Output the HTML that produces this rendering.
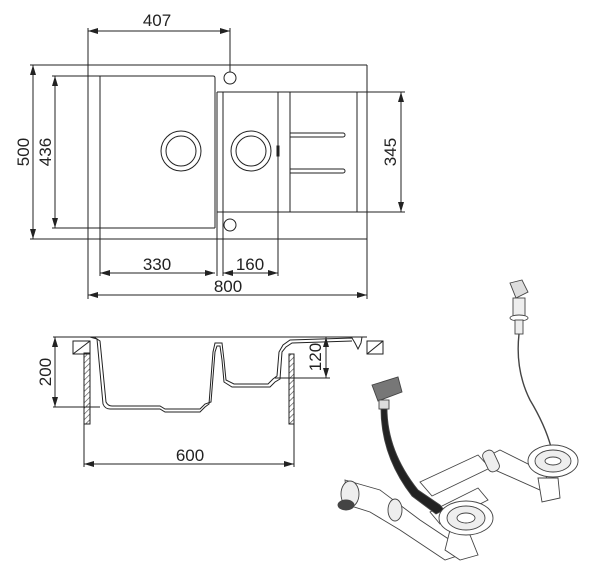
<!DOCTYPE html>
<html><head><meta charset="utf-8"><style>
html,body{margin:0;padding:0;background:#fff;width:600px;height:574px;overflow:hidden}
svg text{font-family:"Liberation Sans",sans-serif;font-size:17px;fill:#222}
</style></head><body>
<svg width="600" height="574" viewBox="0 0 600 574" xmlns="http://www.w3.org/2000/svg">
<defs>
<marker id="a" viewBox="0 0 10 6" refX="10" refY="3" markerWidth="10" markerHeight="6" orient="auto-start-reverse" markerUnits="userSpaceOnUse"><path d="M0,0L10,3L0,6z" fill="#222"/></marker>
<pattern id="h" width="4" height="4" patternUnits="userSpaceOnUse" patternTransform="rotate(45)"><line x1="0" y1="0" x2="0" y2="4" stroke="#444" stroke-width="1.2"/></pattern>
</defs>
<g stroke="#222" stroke-width="1" fill="none">
<line x1="88" y1="28" x2="88" y2="299"/>
<line x1="230" y1="28" x2="230" y2="72"/>
<line x1="88" y1="31" x2="230" y2="31" marker-start="url(#a)" marker-end="url(#a)"/>
<line x1="30" y1="65" x2="367" y2="65"/>
<line x1="367" y1="65" x2="367" y2="299"/>
<line x1="30" y1="239" x2="367" y2="239"/>
<line x1="33" y1="65" x2="33" y2="239" marker-start="url(#a)" marker-end="url(#a)"/>
<line x1="52" y1="76" x2="213" y2="76"/>
<path d="M213,76 Q215,76 215,78 L215,228"/>
<line x1="52" y1="228" x2="215" y2="228"/>
<line x1="100" y1="76" x2="100" y2="276"/>
<line x1="55" y1="76" x2="55" y2="228" marker-start="url(#a)" marker-end="url(#a)"/>
<line x1="217" y1="92" x2="405" y2="92"/>
<line x1="217" y1="212" x2="405" y2="212"/>
<line x1="217" y1="92" x2="217" y2="276"/>
<line x1="223" y1="92" x2="223" y2="276"/>
<line x1="278" y1="92" x2="278" y2="276"/>
<line x1="290" y1="92" x2="290" y2="212"/>
<line x1="357" y1="92" x2="357" y2="212"/>
<path d="M290,133 L343,133 A2,2 0 0 1 343,137 L290,137"/>
<path d="M290,169 L343,169 A2,2 0 0 1 343,173 L290,173"/>
<line x1="401" y1="92" x2="401" y2="212" marker-start="url(#a)" marker-end="url(#a)"/>
<circle cx="230" cy="78" r="6"/>
<circle cx="230" cy="225" r="6"/>
<circle cx="181" cy="151" r="20"/><circle cx="181" cy="151" r="15"/>
<circle cx="251" cy="151" r="20"/><circle cx="251" cy="151" r="15"/>
<rect x="277" y="146" width="2" height="10" fill="#222"/>
<line x1="100" y1="273" x2="215" y2="273" marker-start="url(#a)" marker-end="url(#a)"/>
<line x1="223" y1="273" x2="278" y2="273" marker-start="url(#a)" marker-end="url(#a)"/>
<line x1="88" y1="295" x2="367" y2="295" marker-start="url(#a)" marker-end="url(#a)"/>
<line x1="53" y1="337" x2="367" y2="337"/>
<line x1="53" y1="407" x2="100" y2="407"/>
<line x1="55" y1="337" x2="55" y2="407" marker-start="url(#a)" marker-end="url(#a)"/>
<rect x="73" y="341" width="17" height="13"/><line x1="73" y1="354" x2="90" y2="341"/>
<rect x="367" y="341" width="16" height="13"/><line x1="367" y1="354" x2="383" y2="341"/>
<rect x="84" y="353" width="6" height="71" fill="url(#h)"/>
<rect x="289" y="354" width="5" height="70" fill="url(#h)"/>
<line x1="84" y1="424" x2="84" y2="467"/>
<line x1="294" y1="424" x2="294" y2="467"/>
<line x1="84" y1="464" x2="294" y2="464" marker-start="url(#a)" marker-end="url(#a)"/>
<line x1="275" y1="378" x2="330" y2="378"/>
<line x1="326" y1="337" x2="326" y2="378" marker-start="url(#a)" marker-end="url(#a)"/>
<path d="M90,337 L97,339 L103,404 Q105,409 110,409 L160,409 L165,412 L200,412 L205,407 L209,404 L213,352 L215,343 L222,343 L224,360 L226,380 L234,384 L268,384 L273,379 L277,376 L279,352 L283,345 L290,340 L352,338 L355,343 L358,349 L361,343 L362,337"/>
<path d="M94,337 L100,341 L106,402 Q108,406 112,406 L160,406 L165,409 L200,409 L205,404 L211,402 L215,352 L217,346 L220,346 L222,360 L224,382 L232,387 L270,387 L275,382 L280,379 L282,352 L286,347 L292,343 L352,341"/>
</g>
<g stroke="#444" stroke-width="0.9" fill="#fff">
<path d="M420,482 L478,455 L490,468 L432,496 Z"/>
<path d="M430,512 L478,488 L488,500 L440,524 Z"/>
<path d="M490,455 L500,450 L548,474 L540,490 L495,470 Z"/>
<rect x="485" y="450" width="12" height="22" rx="5" transform="rotate(-25 491 461)" fill="#eee"/>
<path d="M538,478 L558,478 L560,498 L542,502 Z"/>
<path d="M510,283 L522,280 L528,292 L516,298 Z" fill="#ddd"/>
<rect x="513" y="298" width="12" height="20" fill="#eee"/>
<ellipse cx="519" cy="318" rx="9" ry="3"/>
<rect x="515" y="320" width="8" height="14" fill="#eee"/>
<path d="M519,334 Q515,370 530,400 Q545,425 551,447" fill="none" stroke-width="1.4"/>
<ellipse cx="553" cy="461" rx="25" ry="16"/>
<ellipse cx="553" cy="461" rx="18" ry="11" fill="#eee"/>
<ellipse cx="553" cy="461" rx="8" ry="4"/>
<path d="M345,480 L380,490 L420,520 L450,540 L460,555 L445,560 L400,530 L370,512 L348,505 Z"/>
<ellipse cx="350" cy="494" rx="9" ry="13" fill="#eee"/>
<ellipse cx="346" cy="505" rx="8" ry="5" fill="#444"/>
<ellipse cx="395" cy="510" rx="7" ry="11" fill="#eee"/>
<path d="M450,530 L470,535 L478,555 L460,560 L445,550 Z"/>
<path d="M387,405 Q386,450 418,490 L440,505 L444,510 L436,514 L412,496 Q380,455 381,405 Z" fill="#222"/>
<path d="M372,385 L398,377 L402,392 L378,401 Z" fill="#777"/>
<rect x="379" y="400" width="10" height="9" fill="#ddd"/>
<ellipse cx="466" cy="518" rx="27" ry="17"/>
<ellipse cx="466" cy="518" rx="19" ry="12" fill="#eee"/>
<ellipse cx="466" cy="518" rx="9" ry="5"/>
</g>
<text x="157" y="26" text-anchor="middle">407</text>
<text transform="translate(29,152) rotate(-90)" text-anchor="middle">500</text>
<text transform="translate(51,152) rotate(-90)" text-anchor="middle">436</text>
<text transform="translate(396,152) rotate(-90)" text-anchor="middle">345</text>
<text x="157" y="270" text-anchor="middle">330</text>
<text x="250" y="270" text-anchor="middle">160</text>
<text x="228" y="292" text-anchor="middle">800</text>
<text transform="translate(51,372) rotate(-90)" text-anchor="middle">200</text>
<text transform="translate(321,357) rotate(-90)" text-anchor="middle">120</text>
<text x="190" y="461" text-anchor="middle">600</text>
</svg>
</body></html>
